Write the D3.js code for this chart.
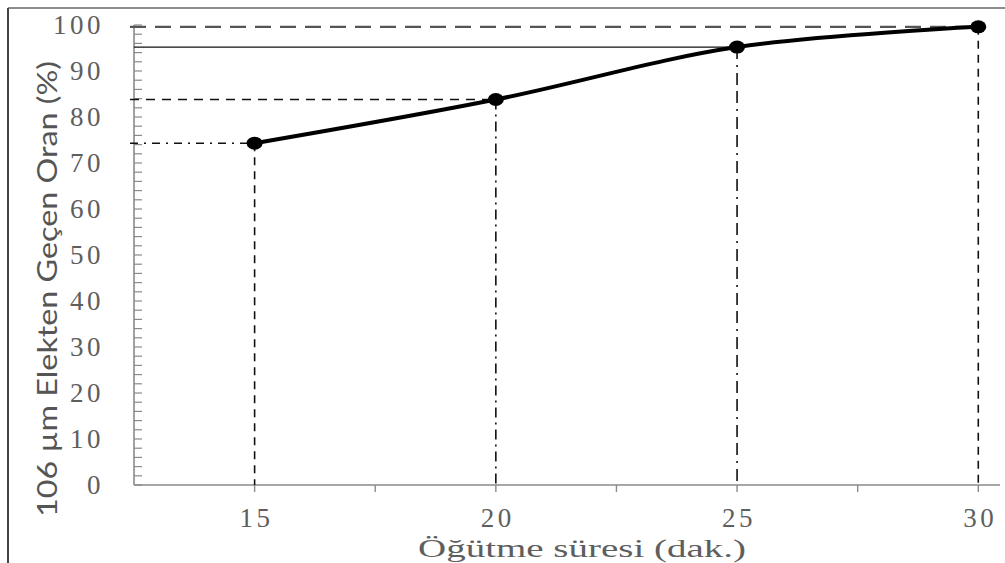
<!DOCTYPE html>
<html>
<head>
<meta charset="utf-8">
<script src="https://cdn.jsdelivr.net/npm/d3@7"></script>
<style>
  html, body { margin: 0; padding: 0; background: #fff; }
  svg { display: block; }
</style>
</head>
<body>
<svg id="chart" width="1005" height="563"></svg>
<script>
// Grinding time (min) vs. fraction passing the 106 µm sieve (%)
const times = [15, 20, 25, 30];
const passing = [74.3, 83.8, 95.2, 99.6];
const xTicks = [15, 17.5, 20, 22.5, 25, 27.5, 30];
const xTickLabels = ["15", "", "20", "", "25", "", "30"];
const yMajorTicks = [0, 10, 20, 30, 40, 50, 60, 70, 80, 90, 100];
const yMinorTicks = d3.range(0, 101, 2);
// dash pattern for each drop / guide line, by point
const verticalDash = ["8,6", "10,5,2,5", "12,6,2,6,12,6", "8,6"];
const horizontalDash = ["8,6,2,6", "9,7", "none", "16,9"];

const svg = d3.select("#chart");
const W = 1005, H = 563;

const x = d3.scaleLinear().domain([12.5, 30.45]).range([134, 1000]);
const y = d3.scaleLinear().domain([0, 100]).range([485, 25]);

// outer frame: top and left edges
svg.append("line").attr("x1", 8).attr("x2", W).attr("y1", 8).attr("y2", 8)
  .attr("stroke", "#666").attr("stroke-width", 1.5);
svg.append("line").attr("x1", 8).attr("x2", 8).attr("y1", 8).attr("y2", H)
  .attr("stroke", "#444").attr("stroke-width", 2);

const axisColor = "#8a8a8a";
const labelColor = "#5e5e5e";

// y axis: line, minor ticks every 2 % pointing inward
svg.append("line").attr("x1", x(12.5)).attr("x2", x(12.5))
  .attr("y1", y(100)).attr("y2", y(0))
  .attr("stroke", axisColor).attr("stroke-width", 1.6);
svg.append("g").selectAll("line").data(yMinorTicks).join("line")
  .attr("x1", x(12.5)).attr("x2", x(12.5) + 8)
  .attr("y1", d => y(d)).attr("y2", d => y(d))
  .attr("stroke", axisColor).attr("stroke-width", 1.2);
svg.append("g").selectAll("text").data(yMajorTicks).join("text")
  .attr("x", 104).attr("y", d => y(d))
  .attr("dy", "0.34em")
  .attr("text-anchor", "end")
  .attr("font-family", "'Liberation Serif', 'DejaVu Serif', serif")
  .attr("font-size", 27).attr("letter-spacing", 3.5)
  .attr("fill", labelColor)
  .text(d => d);

// x axis: line, ticks pointing down
svg.append("line").attr("x1", x(12.5)).attr("x2", x(30.45))
  .attr("y1", y(0)).attr("y2", y(0))
  .attr("stroke", axisColor).attr("stroke-width", 1.6);
svg.append("g").selectAll("line").data(xTicks).join("line")
  .attr("x1", d => x(d)).attr("x2", d => x(d))
  .attr("y1", y(0)).attr("y2", y(0) + 7)
  .attr("stroke", axisColor).attr("stroke-width", 1.4);
svg.append("g").selectAll("text").data(xTicks).join("text")
  .attr("x", d => x(d) + 2).attr("y", 527)
  .attr("text-anchor", "middle")
  .attr("font-family", "'Liberation Serif', 'DejaVu Serif', serif")
  .attr("font-size", 27).attr("letter-spacing", 3.5)
  .attr("fill", labelColor)
  .text((d, i) => xTickLabels[i]);

// axis titles
svg.append("text")
  .attr("x", 582).attr("y", 557)
  .attr("text-anchor", "middle")
  .attr("font-family", "'Liberation Serif', 'DejaVu Serif', serif")
  .attr("font-size", 26)
  .attr("textLength", 328).attr("lengthAdjust", "spacingAndGlyphs")
  .attr("fill", labelColor)
  .text("Öğütme süresi (dak.)");
svg.append("text")
  .attr("transform", "translate(57,289) rotate(-90)")
  .attr("text-anchor", "middle")
  .attr("font-family", "Lato, 'Noto Sans', sans-serif")
  .attr("font-size", 27)
  .attr("textLength", 456).attr("lengthAdjust", "spacingAndGlyphs")
  .attr("fill", "#555")
  .text("106 µm Elekten Geçen Oran (%)");

const pts = times.map((t, i) => ({ t, v: passing[i], i }));

// guide lines from each point to both axes
svg.append("g").selectAll("line").data(pts).join("line")
  .attr("x1", d => x(d.t)).attr("x2", d => x(d.t))
  .attr("y1", d => y(d.v)).attr("y2", y(0))
  .attr("stroke", "#111").attr("stroke-width", 1.6)
  .attr("stroke-dasharray", d => verticalDash[d.i]);
svg.append("g").selectAll("line").data(pts).join("line")
  .attr("x1", d => d.i === 2 ? x(12.5) : x(12.5) - 4).attr("x2", d => x(d.t))
  .attr("y1", d => y(d.v)).attr("y2", d => y(d.v))
  .attr("stroke", d => d.i === 3 ? "#555" : "#111")
  .attr("stroke-width", d => d.i === 3 ? 2.2 : (d.i === 2 ? 1.2 : 1.5))
  .attr("stroke-dasharray", d => horizontalDash[d.i]);

// smoothed data curve
const line = d3.line()
  .x(d => x(d.t)).y(d => y(d.v))
  .curve(d3.curveCatmullRom.alpha(0.5));
svg.append("path").datum(pts)
  .attr("d", line)
  .attr("fill", "none").attr("stroke", "#000").attr("stroke-width", 4);

// point markers
svg.append("g").selectAll("ellipse").data(pts).join("ellipse")
  .attr("cx", d => x(d.t)).attr("cy", d => y(d.v))
  .attr("rx", 8).attr("ry", 6.5)
  .attr("fill", "#000");
</script>
</body>
</html>
